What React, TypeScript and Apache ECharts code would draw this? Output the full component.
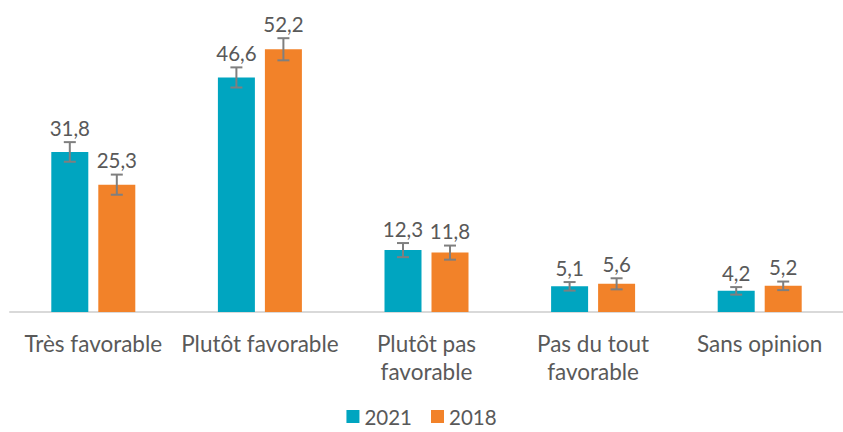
import React, { useEffect, useRef } from "react";
import * as echarts from "echarts";

const categories = ["Très favorable", "Plutôt favorable", "Plutôt pas\nfavorable", "Pas du tout\nfavorable", "Sans opinion"];
const seriesNames = ["2021", "2018"];
const values2021 = [31.8, 46.6, 12.3, 5.1, 4.2];
const values2018 = [25.3, 52.2, 11.8, 5.6, 5.2];
const err2021 = [1.95, 2.0, 1.4, 0.85, 0.75];
const err2018 = [2.0, 2.2, 1.4, 1.1, 0.85];

const COLORS = ["#00A5C0", "#F28229"];
const FONT = "Lato";
const TEXT = "#595959";

function fmt(v: number) {
  return v.toFixed(1).replace(".", ",");
}

export default function App() {
  const ref = useRef<HTMLDivElement>(null);
  useEffect(() => {
    const chart = echarts.init(ref.current!, null, { renderer: "svg" });
    const barWidth = 37;
    const gapPx = 10;
    const offsets = [-(barWidth + gapPx) / 2, (barWidth + gapPx) / 2];
    const makeErr = (idx: number, vals: number[], errs: number[]) => ({
      type: "custom",
      name: seriesNames[idx] + "-err",
      data: vals.map((v, i) => [i, v, errs[i]]),
      z: 10,
      renderItem: (params: any, api: any) => {
        const x = api.value(0);
        const v = api.value(1);
        const e = api.value(2);
        const top = api.coord([x, v + e]);
        const bot = api.coord([x, v - e]);
        const cx = top[0] + offsets[idx];
        const capW = 6;
        const style = { stroke: "#7F7F7F", lineWidth: 2 };
        return {
          type: "group",
          children: [
            { type: "line", shape: { x1: cx, y1: top[1], x2: cx, y2: bot[1] }, style },
            { type: "line", shape: { x1: cx - capW, y1: top[1], x2: cx + capW, y2: top[1] }, style },
            { type: "line", shape: { x1: cx - capW, y1: bot[1], x2: cx + capW, y2: bot[1] }, style },
            {
              type: "text",
              x: cx,
              y: top[1] - 4,
              style: {
                text: fmt(v),
                fill: TEXT,
                font: `20.5px ${FONT}`,
                align: "center",
                verticalAlign: "bottom",
              },
            },
          ],
        };
      },
    });
    chart.setOption({
      animation: false,
      grid: { left: 10, right: -7, top: 10, bottom: 120 },
      legend: {
        top: 406,
        left: "center",
        padding: 0,
        itemWidth: 13,
        itemHeight: 13,
        itemGap: 19,
        icon: "rect",
        data: seriesNames,
        textStyle: { color: TEXT, fontSize: 20.5, fontFamily: FONT },
      },
      xAxis: {
        type: "category",
        data: categories,
        axisLine: { lineStyle: { color: "#D9D9D9", width: 2 } },
        axisTick: { show: false },
        axisLabel: {
          color: TEXT,
          fontSize: 22.5,
          fontFamily: FONT,
          margin: 17,
          lineHeight: 28,
          interval: 0,
        },
      },
      yAxis: {
        type: "value",
        min: 0,
        max: 60,
        show: false,
        splitLine: { show: false },
      },
      series: [
        {
          type: "bar",
          name: seriesNames[0],
          data: values2021,
          barWidth,
          barGap: `${(gapPx / barWidth) * 100}%`,
          itemStyle: { color: COLORS[0] },
        },
        {
          type: "bar",
          name: seriesNames[1],
          data: values2018,
          barWidth,
          itemStyle: { color: COLORS[1] },
        },
        makeErr(0, values2021, err2021),
        makeErr(1, values2018, err2018),
      ],
    });
    return () => chart.dispose();
  }, []);
  return <div ref={ref} style={{ width: 843, height: 432, position: "absolute", left: 0, top: 0 }} />;
}
